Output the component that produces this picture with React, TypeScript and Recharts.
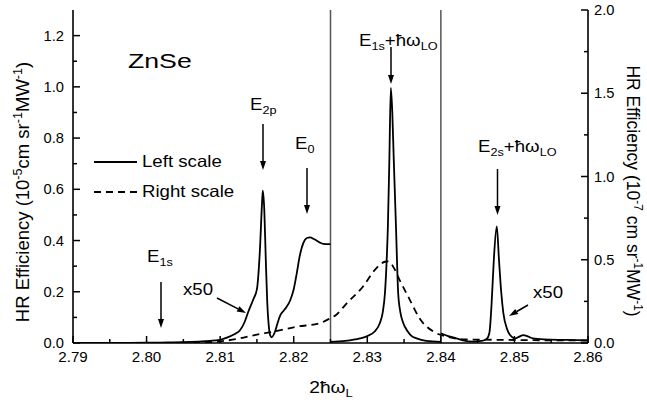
import { LineChart, Line, XAxis, YAxis, ReferenceLine } from 'recharts'

// solid curve, left scale, three separate windows
const e2pX = [2.79, 2.795, 2.8, 2.803, 2.806, 2.808, 2.81, 2.811, 2.812, 2.8127, 2.8133, 2.8138, 2.8145, 2.815, 2.8154, 2.8157, 2.8158, 2.816, 2.8162, 2.8164, 2.8166, 2.8168, 2.817, 2.8174, 2.8178, 2.8182, 2.8186, 2.819, 2.8195, 2.82, 2.8204, 2.8208, 2.8213, 2.8218, 2.8222, 2.8228, 2.8235, 2.824, 2.825]
const e2pY = [0, 0, 0.001, 0.002, 0.004, 0.007, 0.012, 0.022, 0.035, 0.05, 0.08, 0.12, 0.17, 0.21, 0.36, 0.55, 0.595, 0.52, 0.33, 0.16, 0.07, 0.03, 0.022, 0.04, 0.077, 0.11, 0.125, 0.14, 0.165, 0.21, 0.27, 0.337, 0.39, 0.41, 0.412, 0.405, 0.393, 0.387, 0.386]

const e1sLoX = [2.825, 2.827, 2.829, 2.83, 2.831, 2.8317, 2.8321, 2.8324, 2.8326, 2.8328, 2.833, 2.8332, 2.8334, 2.8336, 2.8339, 2.8342, 2.8345, 2.8349, 2.8355, 2.836, 2.8367, 2.838, 2.84]
const e1sLoY = [0.004, 0.008, 0.018, 0.027, 0.045, 0.077, 0.12, 0.194, 0.3, 0.455, 0.715, 0.996, 0.9, 0.715, 0.455, 0.194, 0.12, 0.077, 0.045, 0.028, 0.018, 0.008, 0.004]

const e2sLoX = [2.84, 2.841, 2.8421, 2.843, 2.8444, 2.8455, 2.8462, 2.8466, 2.8469, 2.8472, 2.8476, 2.8479, 2.8482, 2.8485, 2.849, 2.8494, 2.8501, 2.8506, 2.8512, 2.8518, 2.8525, 2.854, 2.857, 2.86]
const e2sLoY = [0.038, 0.027, 0.018, 0.01, 0.005, 0.008, 0.015, 0.04, 0.155, 0.325, 0.455, 0.325, 0.2, 0.116, 0.055, 0.031, 0.018, 0.024, 0.031, 0.026, 0.018, 0.014, 0.012, 0.01]

// dashed curve, right scale
const rightX = [2.79, 2.805, 2.8095, 2.8127, 2.8147, 2.8172, 2.8204, 2.8236, 2.825, 2.8258, 2.8272, 2.8294, 2.831, 2.8324, 2.8328, 2.8335, 2.8344, 2.8358, 2.8371, 2.839, 2.8408, 2.843, 2.846, 2.85, 2.855, 2.86]
const rightY = [0, 0, 0.008, 0.028, 0.048, 0.068, 0.098, 0.12, 0.15, 0.17, 0.238, 0.338, 0.438, 0.488, 0.49, 0.46, 0.378, 0.258, 0.148, 0.068, 0.038, 0.022, 0.02, 0.018, 0.016, 0.015]

const xTicks = [2.79, 2.795, 2.8, 2.805, 2.81, 2.815, 2.82, 2.825, 2.83, 2.835, 2.84, 2.845, 2.85, 2.855, 2.86]
const leftTicks = [0, 0.1, 0.2, 0.3, 0.4, 0.5, 0.6, 0.7, 0.8, 0.9, 1.0, 1.1, 1.2]
const rightTicks = [0, 0.25, 0.5, 0.75, 1.0, 1.25, 1.5, 1.75, 2.0]
const windowEdges = [2.825, 2.84]

const zip = (xs: number[], ys: number[]) => xs.map((x, i) => ({ x, y: ys[i] }))

const FONT = '"Liberation Sans", Arial, sans-serif'
const SX = 1.13 // the scan's lettering is a bit wide
const isStep = (v: number, step: number) => Math.abs(v / step - Math.round(v / step)) < 1e-6

// [text, 0 normal | 1 subscript | -1 superscript]
type Part = [string, number]

function Rich({ parts, size }: { parts: Part[]; size: number }) {
  let cur = 0
  return (
    <>
      {parts.map(([s, k], i) => {
        const off = k === 1 ? size * 0.25 : k === -1 ? -size * 0.4 : 0
        const dy = off - cur
        cur = off
        return (
          <tspan key={i} dy={dy} fontSize={k ? size * 0.68 : size}>
            {s}
          </tspan>
        )
      })}
    </>
  )
}

function T({ x, y, size, parts, anchor = 'start', sx = SX }: { x: number; y: number; size: number; parts: Part[]; anchor?: string; sx?: number }) {
  return (
    <text transform={`translate(${x},${y}) scale(${sx},1)`} textAnchor={anchor as any} fontSize={size} fontFamily={FONT} fill="#000">
      <Rich parts={parts} size={size} />
    </text>
  )
}

function BottomTick(props: any) {
  const { x, y, payload } = props
  const v = payload.value
  const major = isStep(v, 0.01)
  return (
    <g>
      <line x1={x} x2={x} y1={y} y2={y - (major ? 7 : 4)} stroke="#000" strokeWidth={1.5} />
      {major && <T x={x} y={y + 19} size={14} sx={1.08} anchor="middle" parts={[[v.toFixed(2), 0]]} />}
    </g>
  )
}

function TopTick(props: any) {
  const { x, y, payload } = props
  const major = isStep(payload.value, 0.01)
  return <line x1={x} x2={x} y1={y} y2={y + (major ? 7 : 4)} stroke="#000" strokeWidth={1.5} />
}

function LeftTick(props: any) {
  const { x, y, payload } = props
  const v = payload.value
  const major = isStep(v, 0.2)
  return (
    <g>
      <line x1={x} x2={x + (major ? 7 : 4)} y1={y} y2={y} stroke="#000" strokeWidth={1.5} />
      {major && <T x={x - 9} y={y + 5} size={14} sx={1.05} anchor="end" parts={[[v.toFixed(1), 0]]} />}
    </g>
  )
}

function RightTick(props: any) {
  const { x, y, payload } = props
  const v = payload.value
  const major = isStep(v, 0.5)
  return (
    <g>
      <line x1={x} x2={x - (major ? 7 : 4)} y1={y} y2={y} stroke="#000" strokeWidth={1.5} />
      {major && <T x={x + 6} y={y + 5} size={14} sx={1.05} parts={[[v.toFixed(1), 0]]} />}
    </g>
  )
}

function Arrow({ x1, y1, x2, y2 }: { x1: number; y1: number; x2: number; y2: number }) {
  const a = Math.atan2(y2 - y1, x2 - x1)
  const L = 9
  const W = 3
  const bx = x2 - L * Math.cos(a)
  const by = y2 - L * Math.sin(a)
  const px = -Math.sin(a) * W
  const py = Math.cos(a) * W
  return (
    <g>
      <line x1={x1} y1={y1} x2={bx} y2={by} stroke="#000" strokeWidth={1.5} />
      <polygon points={`${x2},${y2} ${bx + px},${by + py} ${bx - px},${by - py}`} fill="#000" />
    </g>
  )
}

const leftTitle: Part[] = [['HR Efficiency (10', 0], ['-5', -1], ['cm sr', 0], ['-1', -1], ['MW', 0], ['-1', -1], [')', 0]]
const rightTitle: Part[] = [['HR Efficiency (10', 0], ['-7', -1], [' cm sr', 0], ['-1', -1], ['MW', 0], ['-1', -1], [')', 0]]

export default function App() {
  return (
    <div style={{ position: 'absolute', left: 0, top: 0, width: 647, height: 405, background: '#fff' }}>
      <LineChart width={647} height={405} margin={{ top: 10, right: 0, bottom: 0, left: 0 }}>
        <XAxis
          xAxisId="bottom"
          dataKey="x"
          type="number"
          domain={[2.79, 2.86]}
          ticks={xTicks}
          allowDataOverflow
          height={62}
          tickSize={0}
          tickMargin={0}
          tick={BottomTick}
          axisLine={{ stroke: '#000', strokeWidth: 1.6 }}
          interval={0}
        />
        <XAxis
          xAxisId="top"
          orientation="top"
          dataKey="x"
          type="number"
          domain={[2.79, 2.86]}
          ticks={xTicks}
          allowDataOverflow
          height={0}
          tickSize={0}
          tickMargin={0}
          tick={TopTick}
          axisLine={{ stroke: '#000', strokeWidth: 1.6 }}
          interval={0}
        />
        <YAxis
          yAxisId="left"
          type="number"
          domain={[0, 1.3]}
          ticks={leftTicks}
          allowDataOverflow
          width={73}
          tickSize={0}
          tickMargin={0}
          tick={LeftTick}
          axisLine={{ stroke: '#000', strokeWidth: 1.6 }}
          interval={0}
        />
        <YAxis
          yAxisId="right"
          orientation="right"
          type="number"
          domain={[0, 2]}
          ticks={rightTicks}
          allowDataOverflow
          width={59}
          tickSize={0}
          tickMargin={0}
          tick={RightTick}
          axisLine={{ stroke: '#000', strokeWidth: 1.6 }}
          interval={0}
        />
        {windowEdges.map((x) => (
          <ReferenceLine key={x} x={x} xAxisId="bottom" yAxisId="left" stroke="#555" strokeWidth={1.5} />
        ))}
        <Line data={zip(rightX, rightY)} dataKey="y" xAxisId="bottom" yAxisId="right" type="monotone" stroke="#000" strokeWidth={1.8} strokeDasharray="7 5" dot={false} isAnimationActive={false} />
        <Line data={zip(e2pX, e2pY)} dataKey="y" xAxisId="bottom" yAxisId="left" type="monotone" stroke="#000" strokeWidth={1.8} dot={false} isAnimationActive={false} />
        <Line data={zip(e1sLoX, e1sLoY)} dataKey="y" xAxisId="bottom" yAxisId="left" type="monotone" stroke="#000" strokeWidth={1.8} dot={false} isAnimationActive={false} />
        <Line data={zip(e2sLoX, e2sLoY)} dataKey="y" xAxisId="bottom" yAxisId="left" type="monotone" stroke="#000" strokeWidth={1.8} dot={false} isAnimationActive={false} />
      </LineChart>

      <svg width={647} height={405} style={{ position: 'absolute', left: 0, top: 0, pointerEvents: 'none' }}>
        <T x={128} y={68} size={21} sx={1.27} parts={[['ZnSe', 0]]} />

        <line x1={94} x2={137} y1={162} y2={162} stroke="#000" strokeWidth={1.8} />
        <T x={142} y={167} size={16.5} parts={[['Left scale', 0]]} />
        <line x1={94} x2={137} y1={192} y2={192} stroke="#000" strokeWidth={1.8} strokeDasharray="7 5" />
        <T x={142} y={197} size={16.5} parts={[['Right scale', 0]]} />

        <T x={250} y={110} size={16.5} parts={[['E', 0], ['2p', 1]]} />
        <Arrow x1={263} y1={124} x2={263} y2={170} />
        <T x={295} y={149} size={16.5} parts={[['E', 0], ['0', 1]]} />
        <Arrow x1={307} y1={168} x2={307} y2={214} />
        <T x={147} y={262} size={16.5} parts={[['E', 0], ['1s', 1]]} />
        <Arrow x1={161} y1={282} x2={161} y2={328} />
        <T x={183} y={295} size={16.5} parts={[['x50', 0]]} />
        <Arrow x1={217} y1={298} x2={246} y2={313} />

        <T x={359} y={46} size={16.5} parts={[['E', 0], ['1s', 1], ['+ħω', 0], ['LO', 1]]} />
        <Arrow x1={391} y1={47} x2={391} y2={84} />
        <T x={478} y={152} size={16.5} parts={[['E', 0], ['2s', 1], ['+ħω', 0], ['LO', 1]]} />
        <Arrow x1={497.5} y1={169} x2={497.5} y2={215} />
        <T x={533} y={298} size={16.5} parts={[['x50', 0]]} />
        <Arrow x1={528} y1={305} x2={509} y2={316} />

        <T x={331} y={393} size={17} anchor="middle" parts={[['2ħω', 0], ['L', 1]]} />

        <text transform="translate(29,192) rotate(-90)" fontSize={18.5} fontFamily={FONT} textAnchor="middle" fill="#000">
          <Rich parts={leftTitle} size={18.5} />
        </text>
        <text transform="translate(626.5,191) rotate(90)" fontSize={17.5} fontFamily={FONT} textAnchor="middle" fill="#000">
          <Rich parts={rightTitle} size={17.5} />
        </text>
      </svg>
    </div>
  )
}
